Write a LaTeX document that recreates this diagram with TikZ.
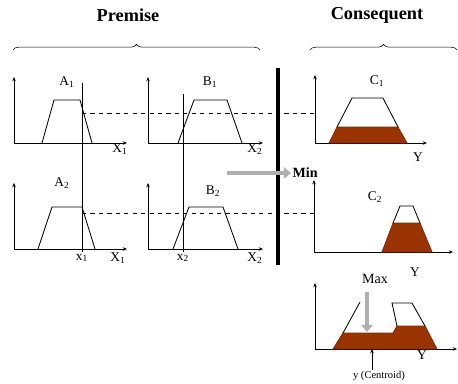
\documentclass[tikz,border=0pt]{standalone}
\usepackage{fontspec}
\setmainfont{Liberation Serif}
\usetikzlibrary{arrows.meta,positioning,decorations.pathreplacing}
\definecolor{fzbrown}{RGB}{153,51,0}
\definecolor{fzgray}{RGB}{175,175,175}
\begin{document}
\begin{tikzpicture}[x=0.025cm,y=-0.025cm,
  fzaxis/.style={line width=0.5pt,-{Stealth[length=3pt,width=2.5pt]}},
  fzset/.style={line width=0.6pt},
  fzcut/.style={fill=fzbrown,draw=fzbrown!85!black,line width=0.6pt},
  fzlabel/.style={font=\fontsize{9.5}{11}\selectfont,inner sep=1pt},
  fzhead/.style={font=\fontsize{13}{15}\selectfont\bfseries},
  fzbrace/.style={decorate,decoration={brace,amplitude=4pt},line width=0.4pt},
  fzguide/.style={dashed,line width=0.5pt},
  fzbig/.style={line width=3pt,draw=fzgray,-{Triangle[length=5pt,width=8pt]}}
]
  \useasboundingbox (0,0) rectangle (458,383);
  % Headers and braces
  \node[fzhead] (premise) at (128,15) {Premise};
  \node[fzhead] (consequent) at (377,15) {Consequent};
  \draw[fzbrace] (13,50) -- (260,50);
  \draw[fzbrace] (310,50) -- (457,50);
  % Rule 1: A1
  \draw[fzaxis] (14,143) -- (14,77);
  \draw[fzaxis] (14,143) -- (127,143);
  \draw[fzset] (42,143) -- (54,100) -- (80,100) -- (92,143);
  \node[fzlabel] (a1) at (67,82) {A\textsubscript{1}};
  \node[fzlabel] (X1a) at (120,149) {X\textsubscript{1}};
  % Rule 1: B1
  \draw[fzaxis] (148,143) -- (148,77);
  \draw[fzaxis] (148,143) -- (263,143);
  \draw[fzset] (178,143) -- (194,100) -- (227,100) -- (242,143);
  \node[fzlabel] (b1) at (210,82) {B\textsubscript{1}};
  \node[fzlabel] (X2a) at (255,149) {X\textsubscript{2}};
  % Rule 2: A2
  \draw[fzaxis] (14,249) -- (14,183);
  \draw[fzaxis] (14,249) -- (127,249);
  \draw[fzset] (38,249) -- (52,207) -- (82,207) -- (95,249);
  \node[fzlabel] (a2) at (62,183) {A\textsubscript{2}};
  \node[fzlabel] (X1b) at (118,258) {X\textsubscript{1}};
  % Rule 2: B2
  \draw[fzaxis] (148,249) -- (148,183);
  \draw[fzaxis] (148,249) -- (263,249);
  \draw[fzset] (173,249) -- (189,207) -- (223,207) -- (238,249);
  \node[fzlabel] (b2) at (213,191) {B\textsubscript{2}};
  \node[fzlabel] (X2b) at (255,258) {X\textsubscript{2}};
  % Crisp inputs
  \node[fzlabel] (x1) at (82,258) {x\textsubscript{1}};
  \node[fzlabel] (x2) at (183,258) {x\textsubscript{2}};
  \draw[fzset] (82,83) -- (x1.north);
  \draw[fzset] (183,94) -- (x2.north);
  % Min bar
  \draw[line width=2.5pt] (278,68) -- (278,265);
  \coordinate (minstart) at (227,173);
  \node[font=\fontsize{10}{12}\selectfont\bfseries,anchor=west,inner sep=1pt] (min) at (291,173) {Min};
  \draw[fzbig] (minstart) -- (min.west);
  % Firing levels
  \coordinate (cutA1) at (82,113);
  \coordinate (cutC1) at (315,113);
  \coordinate (cutA2) at (82,213);
  \coordinate (cutC2) at (314,213);
  \draw[fzguide] (cutA1) -- (cutC1);
  \draw[fzguide] (cutA2) -- (cutC2);
  % Consequent C1
  \draw[fzaxis] (315,143) -- (315,75);
  \draw[fzaxis] (315,143) -- (427,143);
  \draw[fzcut] (329,143) -- (337,127) -- (398,127) -- (407,143) -- cycle;
  \draw[fzset] (337,127) -- (352,98) -- (383,98) -- (398,127);
  \node[fzlabel] (c1) at (377,81) {C\textsubscript{1}};
  \node[fzlabel] (y1) at (418,157) {Y};
  % Consequent C2
  \draw[fzaxis] (314,252) -- (314,180);
  \draw[fzaxis] (314,252) -- (453,252);
  \draw[fzcut] (382,252) -- (393,223) -- (420,223) -- (432,252) -- cycle;
  \draw[fzset] (393,223) -- (400,206) -- (413,206) -- (420,223);
  \node[fzlabel] (c2) at (375,197) {C\textsubscript{2}};
  \node[fzlabel] (y2) at (415,272) {Y};
  % Aggregation
  \draw[fzaxis] (315,349) -- (315,283);
  \draw[fzaxis] (315,349) -- (457,349);
  \draw[fzcut] (333,349) -- (343,333) -- (393,333) -- (397,326) -- (425,326) -- (437,349) -- cycle;
  \draw[fzset] (343,333) -- (360,302);
  \draw[fzset] (397,326) -- (392,303) -- (412,303) -- (425,326);
  \node[fzlabel] (y3) at (422,355) {Y};
  \node[font=\fontsize{10}{12}\selectfont,inner sep=1pt] (max) at (375,279) {Max};
  \coordinate (maxstart) at (367,292);
  \coordinate (maxend) at (367,332);
  \draw[fzbig] (maxstart) -- (maxend);
  % Centroid
  \node[font=\fontsize{7.5}{9}\selectfont,inner sep=1pt] (centroid) at (379,376) {y (Centroid)};
  \coordinate (ystar) at (372,349);
  \draw[line width=0.5pt,-{Stealth[length=3pt,width=2.5pt]}] (centroid.north -| ystar) -- (ystar);
\end{tikzpicture}
\end{document}
